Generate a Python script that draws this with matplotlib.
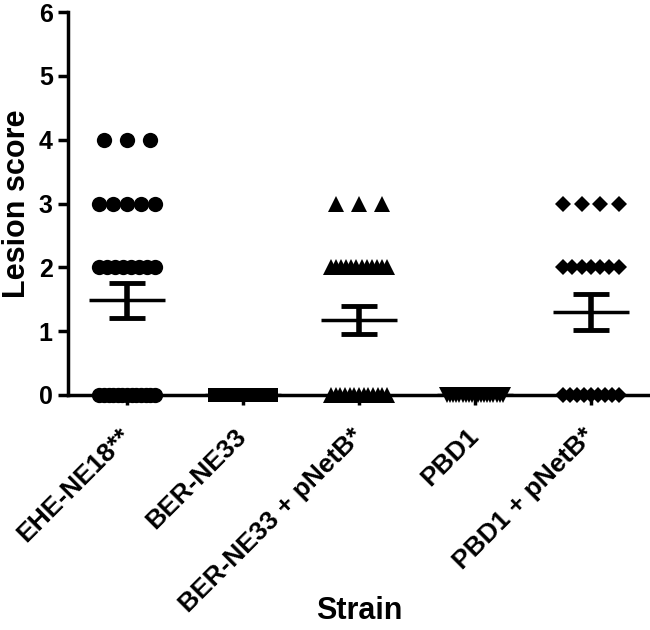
import numpy as np
import matplotlib
matplotlib.use("Agg")
import matplotlib.pyplot as plt

plt.rcParams['font.family'] = ['Liberation Sans', 'DejaVu Sans']
plt.rcParams['font.weight'] = 'bold'

# strains (x categories)
strains = ["EHE-NE18**", "BER-NE33", "BER-NE33 + pNetB*", "PBD1", "PBD1 + pNetB*"]
markers = ['o', 's', '^', 'v', 'D']
msizes = [11, 9.5, 11, 11, 8]

# lesion score counts per strain: score -> number of birds
scores = [4, 3, 2, 1, 0]
counts_ehe = [3, 5, 8, 0, 13]
counts_ber = [0, 0, 0, 0, 20]
counts_ber_pnetb = [0, 3, 12, 0, 13]
counts_pbd1 = [0, 0, 0, 0, 19]
counts_pbd1_pnetb = [0, 4, 7, 0, 9]
all_counts = [counts_ehe, counts_ber, counts_ber_pnetb, counts_pbd1, counts_pbd1_pnetb]


def row_offsets(n, step=0.2, max_span=0.48):
    if n <= 1:
        return np.zeros(n)
    span = min(step * (n - 1), max_span)
    return np.linspace(-span / 2, span / 2, n)


fig = plt.figure(figsize=(6.5, 6.3), dpi=100)
ax = fig.add_axes([68 / 650, 1 - 395 / 630, 582 / 650, 383 / 630])

for i, counts in enumerate(all_counts):
    vals = []
    for s, c in zip(scores, counts):
        if c == 0:
            continue
        xs = i + row_offsets(c)
        ax.plot(xs, [s] * c, linestyle='none', marker=markers[i], markersize=msizes[i],
                color='black', markeredgewidth=0, clip_on=False, zorder=3)
        vals += [s] * c
    vals = np.array(vals, dtype=float)
    mean = vals.mean()
    sem = vals.std(ddof=1) / np.sqrt(len(vals))
    ax.hlines(mean, i - 0.33, i + 0.33, color='black', lw=2.5, zorder=4)
    if sem > 0:
        ax.errorbar(i, mean, yerr=sem, fmt='none', ecolor='black', elinewidth=4,
                    capsize=13, capthick=3.5, zorder=4)

ax.set_xlim(-0.51, 4.51)
ax.set_ylim(0, 6)
ax.set_yticks(range(0, 7))
ax.set_xticks(range(len(strains)))
ax.set_xticklabels(strains, rotation=45, ha='right', va='center', rotation_mode='anchor')

for sp in ['top', 'right']:
    ax.spines[sp].set_visible(False)
for sp in ['left', 'bottom']:
    ax.spines[sp].set_linewidth(2.5)

ax.tick_params(axis='both', width=2.5, length=7, labelsize=18, pad=4)
ax.tick_params(axis='x', pad=20, labelsize=19)

ax.set_ylabel("Lesion score", fontsize=22, fontweight='bold')
ax.yaxis.set_label_coords(-0.062, 0.5)
ax.set_xlabel("Strain", fontsize=22, fontweight='bold')
ax.xaxis.set_label_coords(0.5, -0.525)

fig.savefig("out.png", dpi=100)
